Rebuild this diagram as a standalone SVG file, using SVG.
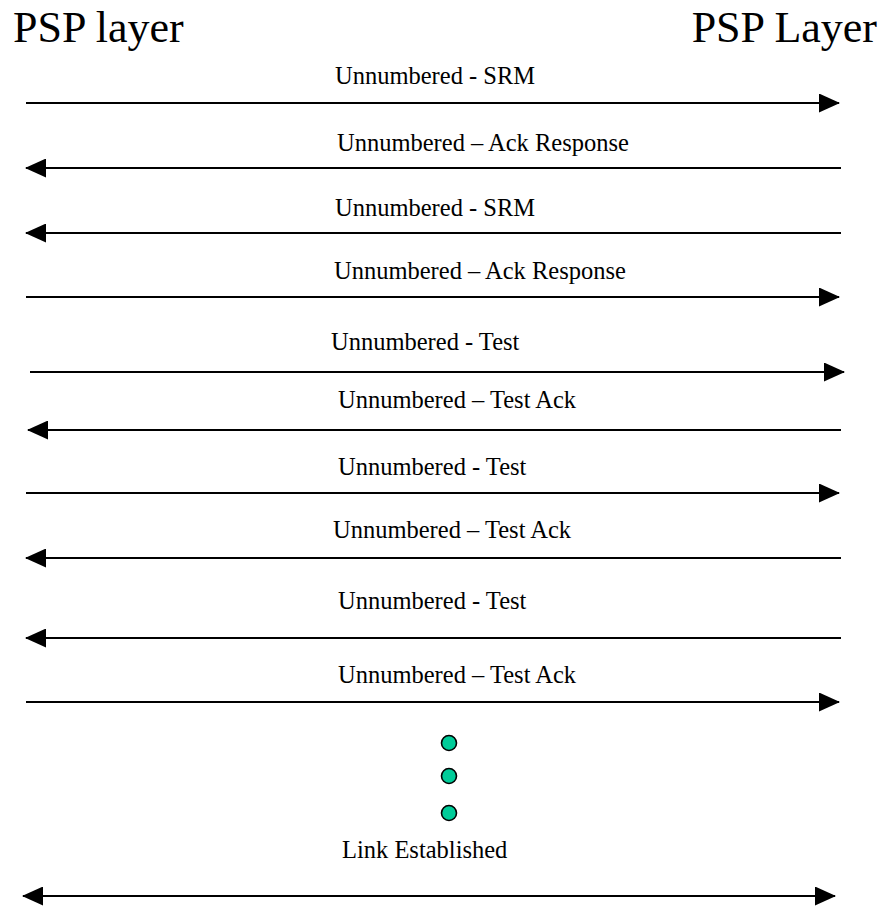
<svg xmlns="http://www.w3.org/2000/svg" width="882" height="908" viewBox="0 0 882 908">
  <style>
    .title { font-family: "Liberation Serif", "Times New Roman", serif; font-size: 44px; fill: #000; }
    .lbl { font-family: "Liberation Serif", "Times New Roman", serif; font-size: 24.5px; fill: #000; }
    .msg { stroke: #000; stroke-width: 2; fill: none; }
    .dot { fill: #00CC99; stroke: #000; stroke-width: 1.6; }
  </style>
  <defs>
    <marker id="head" markerUnits="userSpaceOnUse" markerWidth="21" markerHeight="19" refX="20" refY="9.5" orient="auto-start-reverse">
      <path d="M0,0 L21,9.5 L0,19 Z" fill="#000"/>
    </marker>
  </defs>
  <rect width="882" height="908" fill="#fff"/>

  <g id="layer-left">
    <text class="title" x="13" y="42">PSP layer</text>
  </g>
  <g id="layer-right">
    <text class="title" x="877" y="42" text-anchor="end">PSP Layer</text>
  </g>

  <g id="labels">
    <text class="lbl" x="335" y="84">Unnumbered - SRM</text>
    <text class="lbl" x="337" y="151">Unnumbered – Ack Response</text>
    <text class="lbl" x="335" y="216">Unnumbered - SRM</text>
    <text class="lbl" x="334" y="279">Unnumbered – Ack Response</text>
    <text class="lbl" x="331" y="350">Unnumbered - Test</text>
    <text class="lbl" x="338" y="408">Unnumbered – Test Ack</text>
    <text class="lbl" x="338" y="475">Unnumbered - Test</text>
    <text class="lbl" x="333" y="538">Unnumbered – Test Ack</text>
    <text class="lbl" x="338" y="609">Unnumbered - Test</text>
    <text class="lbl" x="338" y="683">Unnumbered – Test Ack</text>
  </g>

  <g id="connectors">
    <line class="msg" x1="26" y1="103" x2="839" y2="103" marker-end="url(#head)"/>
    <line class="msg" x1="841" y1="168" x2="26" y2="168" marker-end="url(#head)"/>
    <line class="msg" x1="841" y1="233" x2="26" y2="233" marker-end="url(#head)"/>
    <line class="msg" x1="26" y1="297" x2="839" y2="297" marker-end="url(#head)"/>
    <line class="msg" x1="30" y1="372" x2="844" y2="372" marker-end="url(#head)"/>
    <line class="msg" x1="841" y1="430" x2="28" y2="430" marker-end="url(#head)"/>
    <line class="msg" x1="26" y1="493" x2="839" y2="493" marker-end="url(#head)"/>
    <line class="msg" x1="841" y1="558" x2="26" y2="558" marker-end="url(#head)"/>
    <line class="msg" x1="841" y1="638" x2="26" y2="638" marker-end="url(#head)"/>
    <line class="msg" x1="26" y1="702" x2="839" y2="702" marker-end="url(#head)"/>
    <line class="msg" x1="23" y1="896" x2="835" y2="896" marker-start="url(#head)" marker-end="url(#head)"/>
  </g>

  <g id="continuation">
    <circle class="dot" cx="449" cy="743" r="7.5"/>
    <circle class="dot" cx="449" cy="776" r="7.5"/>
    <circle class="dot" cx="449" cy="813" r="7.5"/>
  </g>

  <g id="link-established">
    <text class="lbl" x="342" y="858">Link Established</text>
  </g>
</svg>
